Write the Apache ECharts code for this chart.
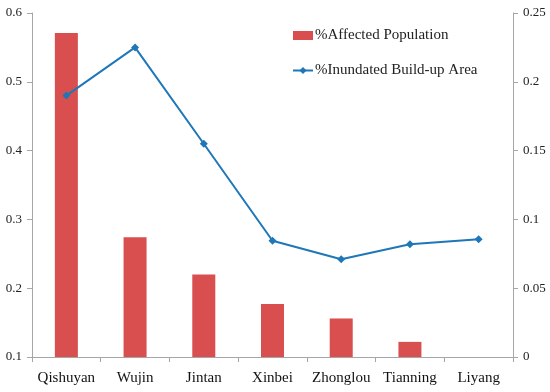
<!DOCTYPE html>
<html><head><meta charset="utf-8">
<script src="https://cdn.jsdelivr.net/npm/echarts@6/dist/echarts.min.js"></script>
<style>html,body{margin:0;padding:0;background:#fff}#c{width:550px;height:392px}</style>
</head><body><div id="c"></div>
<script>
const categories = ["Qishuyan","Wujin","Jintan","Xinbei","Zhonglou","Tianning","Liyang"];
const affectedPopulation = [0.571, 0.274, 0.220, 0.177, 0.156, 0.122, 0.1];
const inundatedArea = [0.190, 0.225, 0.155, 0.0845, 0.071, 0.082, 0.0855];
const leftTicks = {min: 0.1, max: 0.6, interval: 0.1};
const rightTicks = {min: 0, max: 0.25, interval: 0.05};

const font = "'Liberation Serif', serif";
const axisLine = {show: true, lineStyle: {color: '#a6a6a6', width: 1}};
const chart = echarts.init(document.getElementById('c'));
chart.setOption({
  animation: false,
  textStyle: {fontFamily: font},
  grid: {left: 32, right: 37, top: 13, bottom: 35},
  legend: {
    orient: 'vertical', left: 287, top: 23, itemGap: 20,
    itemWidth: 20, itemHeight: 9,
    textStyle: {fontFamily: font, fontSize: 15, color: '#222', padding: [0,0,0,-3]},
    data: [
      {name: '%Affected Population', icon: 'rect'},
      {name: '%Inundated Build-up Area'}
    ]
  },
  xAxis: {
    type: 'category', data: categories,
    axisLine: axisLine,
    axisTick: {show: true, alignWithLabel: false, length: 5, lineStyle: {color: '#a6a6a6'}},
    axisLabel: {fontFamily: font, fontSize: 15, color: '#111', margin: 14, interval: 0}
  },
  yAxis: [
    {type: 'value', min: leftTicks.min, max: leftTicks.max, interval: leftTicks.interval,
     axisLine: axisLine, axisTick: {show: true, length: 5, lineStyle: {color: '#a6a6a6'}},
     splitLine: {show: false},
     axisLabel: {fontFamily: font, fontSize: 13, color: '#222', margin: 10, formatter: v => +v.toFixed(2) + ''}},
    {type: 'value', min: rightTicks.min, max: rightTicks.max, interval: rightTicks.interval,
     axisLine: axisLine, axisTick: {show: true, length: 5, lineStyle: {color: '#a6a6a6'}},
     splitLine: {show: false},
     axisLabel: {fontFamily: font, fontSize: 13, color: '#222', margin: 10, formatter: v => +v.toFixed(2) + ''}}
  ],
  series: [
    {name: '%Affected Population', type: 'bar', yAxisIndex: 0, data: affectedPopulation,
     barWidth: 23, itemStyle: {color: '#d94e4e'}},
    {name: '%Inundated Build-up Area', type: 'line', yAxisIndex: 1, data: inundatedArea,
     symbol: 'diamond', symbolSize: 8, lineStyle: {color: '#1f77b8', width: 2},
     itemStyle: {color: '#1f77b8'}}
  ]
});
</script></body></html>
